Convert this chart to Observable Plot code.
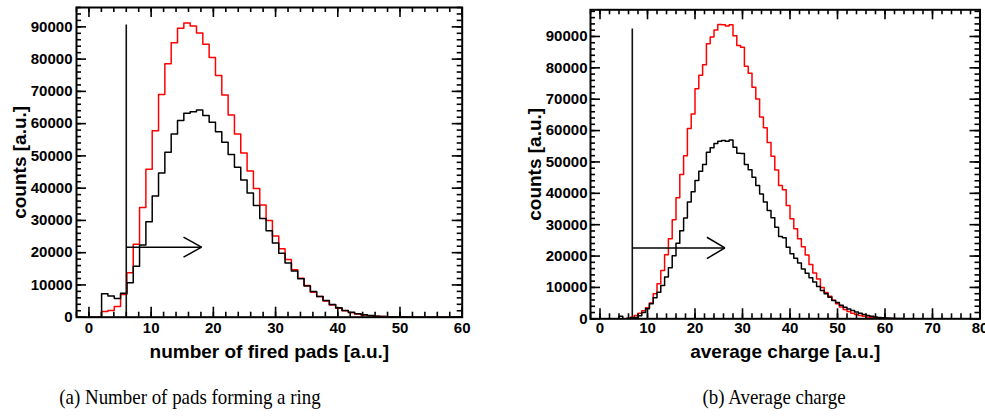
<!DOCTYPE html>
<html><head><meta charset="utf-8">
<script src="https://cdn.jsdelivr.net/npm/d3@7"></script>
<script src="https://cdn.jsdelivr.net/npm/@observablehq/plot@0.6"></script>
<style>
body{margin:0;width:985px;height:420px;overflow:hidden;background:#fff;position:relative}
#a{position:absolute;left:0;top:0}
#b{position:absolute;left:500px;top:0}
.cap{position:absolute;top:385px;font-family:"Liberation Serif","Times New Roman",serif;font-size:21px;white-space:nowrap;transform:translateX(-50%) scaleX(0.9);color:#000}
</style></head>
<body>
<div id="a"></div><div id="b"></div>
<div class="cap" style="left:190px">(a) Number of pads forming a ring</div>
<div class="cap" style="left:774px">(b) Average charge</div>
<script>
// ---------- panel (a): number of fired pads ----------
const padsBinWidth = 60 / 59;          // 59 bins over 0..60
const padsRed = [0,0,1800,2100,3300,7000,13800,22600,34000,45900,57800,69000,78600,85100,89600,91200,90300,88100,84600,80500,74900,68900,62700,56800,50900,45300,39900,34800,30000,25200,21200,17900,14700,12100,9800,7700,6400,5000,3800,2800,2000,1400,1000,700,450,300,200,120,80,50,20,0,0,0,0,0,0,0,0];
const padsBlack = [0,0,7300,6600,5800,7450,10700,15800,22400,29600,37600,44700,51100,56800,61000,63200,63700,64200,62500,60400,57500,54200,50400,46500,42500,38500,34600,30600,26800,23000,19800,16800,14300,11900,9700,8000,6400,5200,3900,2900,2100,1500,1050,750,500,300,200,130,80,50,30,20,10,0,0,0,0,0,0];
const padsXTicks = [0,10,20,30,40,50,60];
const padsYTicks = [0,10000,20000,30000,40000,50000,60000,70000,80000,90000];
const padsCut = {x: 6, top: 90600};
const padsArrow = {x1: 6, x2: 18.1, y: 21700, headX: 15.2, headDy: 3100};

// ---------- panel (b): average charge ----------
const chargeBinWidth = 0.8;            // 100 bins over 0..80
const chargeRed = [0,0,0,0,0,0,0,200,500,1050,1800,2600,3500,5000,7950,11150,15400,20400,25500,31600,38600,46000,52000,60700,65300,73300,77600,81000,87700,89800,92100,93800,93700,93300,93700,90200,87100,86600,80500,78300,73800,70100,64300,60900,56200,51800,47400,42500,41100,36100,31900,28700,25500,23000,20300,17300,14600,12700,10000,8400,7200,5900,4800,3800,3000,2300,1800,1400,1050,800,600,450,350,250,180,120,80,60,40,30,20,15,10,0,0,0,0,0,0,0,0,0,0,0,0,0,0,0,0,0];
const chargeBlack = [0,0,0,0,0,800,0,100,300,400,1000,2000,3200,4800,6700,8500,10600,13300,16300,20100,24100,28100,32100,37200,40500,44100,47000,49200,53100,54500,55900,56600,56800,56600,57000,54700,52800,52700,49200,47500,45100,42500,39800,37200,34500,32200,29200,26200,25800,22800,20700,19300,17800,15900,14500,13100,11700,10300,9000,7950,6900,5800,5200,4300,3700,3100,2650,2200,1800,1370,1050,800,600,450,330,250,180,130,90,60,40,25,15,0,0,0,0,0,0,0,0,0,0,0,0,0,0,0,0,0];
const chargeXTicks = [0,10,20,30,40,50,60,70,80];
const chargeYTicks = [0,10000,20000,30000,40000,50000,60000,70000,80000,90000];
const chargeCut = {x: 6.8, top: 92400};
const chargeArrow = {x1: 6.8, x2: 26.3, y: 22600, headX: 22.5, headDy: 3400};

const FONT = "Liberation Sans, Arial, Helvetica, sans-serif";

function steps(counts, w) {
  const pts = counts.map((c, i) => ({x: i * w, y: c}));
  pts.push({x: counts.length * w, y: counts[counts.length - 1]});
  return pts;
}
function range(a, b, s) { const r = []; for (let v = a; v <= b + 1e-9; v += s) r.push(v); return r; }

function panel(cfg) {
  const H = cfg.height - cfg.mt - cfg.mb;
  const W = cfg.width - cfg.ml - cfg.mr;
  const xMinor = range(cfg.xDomain[0], cfg.xDomain[1], 2);
  const yMinor = range(0, cfg.yDomain[1], 2000);
  const a = cfg.arrow;
  const arrowSegs = [
    {x1: a.x1, y1: a.y, x2: a.x2, y2: a.y},
    {x1: a.headX, y1: a.y + a.headDy, x2: a.x2, y2: a.y},
    {x1: a.headX, y1: a.y - a.headDy, x2: a.x2, y2: a.y}
  ];
  const tk = {stroke: "#000", strokeWidth: 1.6};
  return Plot.plot({
    width: cfg.width, height: cfg.height,
    marginLeft: cfg.ml, marginRight: cfg.mr, marginTop: cfg.mt, marginBottom: cfg.mb,
    x: {domain: cfg.xDomain, axis: null},
    y: {domain: cfg.yDomain, axis: null},
    style: {fontFamily: FONT, overflow: "visible", background: "transparent"},
    marks: [
      Plot.line(steps(cfg.red, cfg.w), {x: "x", y: "y", curve: "step-after", stroke: "#ff0000", strokeWidth: 1.5, clip: true}),
      Plot.line(steps(cfg.black, cfg.w), {x: "x", y: "y", curve: "step-after", stroke: "#000", strokeWidth: 1.5, clip: true}),
      Plot.ruleX([cfg.cut], {x: "x", y1: 0, y2: "top", stroke: "#111", strokeWidth: 1.6}),
      Plot.link(arrowSegs, {x1: "x1", y1: "y1", x2: "x2", y2: "y2", stroke: "#000", strokeWidth: 1.5}),
      // ticks (inside, all four sides)
      Plot.tickX(cfg.xTicks, {x: d => d, insetTop: H - 10, ...tk}),
      Plot.tickX(cfg.xTicks, {x: d => d, insetBottom: H - 10, ...tk}),
      Plot.tickX(xMinor, {x: d => d, insetTop: H - 5, ...tk}),
      Plot.tickX(xMinor, {x: d => d, insetBottom: H - 5, ...tk}),
      Plot.tickY(cfg.yTicks, {y: d => d, insetRight: W - 10, ...tk}),
      Plot.tickY(cfg.yTicks, {y: d => d, insetLeft: W - 10, ...tk}),
      Plot.tickY(yMinor, {y: d => d, insetRight: W - 5, ...tk}),
      Plot.tickY(yMinor, {y: d => d, insetLeft: W - 5, ...tk}),
      Plot.frame({stroke: "#000", strokeWidth: 2}),
      // tick labels
      Plot.text(cfg.xTicks, {x: d => d, frameAnchor: "bottom", dy: cfg.xPad, lineAnchor: "top", textAnchor: "middle", text: d => String(d), fontSize: 15, fontWeight: "bold", fontFamily: FONT, fill: "#000"}),
      Plot.text(cfg.yTicks, {y: d => d, frameAnchor: "left", dx: -cfg.yPad, textAnchor: "end", lineAnchor: "middle", text: d => String(d), fontSize: 15, fontWeight: "bold", fontFamily: FONT, fill: "#000"}),
      // axis titles
      Plot.text([cfg.xTitle], {frameAnchor: "bottom", dy: cfg.xTitleDy, lineAnchor: "middle", textAnchor: "middle", text: d => d, fontSize: 19, fontWeight: "bold", fontFamily: FONT, fill: "#000"}),
      Plot.text([cfg.yTitle], {frameAnchor: "left", dx: cfg.yTitleDx, rotate: -90, textAnchor: "middle", lineAnchor: "middle", text: d => d, fontSize: 19, fontWeight: "bold", fontFamily: FONT, fill: "#000"})
    ]
  });
}

document.getElementById("a").append(panel({
  width: 480, height: 370, ml: 76, mr: 18.3, mt: 7, mb: 53.3,
  xDomain: [-2, 60], yDomain: [0, 96000],
  red: padsRed, black: padsBlack, w: padsBinWidth,
  xTicks: padsXTicks, yTicks: padsYTicks,
  cut: padsCut, arrow: padsArrow,
  xPad: 5, yPad: 4, xTitle: "number of fired pads [a.u.]", xTitleDy: 35,
  yTitle: "counts [a.u.]", yTitleDx: -57
}));
document.getElementById("b").append(panel({
  width: 485, height: 370, ml: 90, mr: 5.5, mt: 9.3, mb: 51.7,
  xDomain: [-2, 80], yDomain: [0, 98500],
  red: chargeRed, black: chargeBlack, w: chargeBinWidth,
  xTicks: chargeXTicks, yTicks: chargeYTicks,
  cut: chargeCut, arrow: chargeArrow,
  xPad: 4, yPad: 3, xTitle: "average charge [a.u.]", xTitleDy: 33,
  yTitle: "counts [a.u.]", yTitleDx: -56
}));
</script>
</body></html>
